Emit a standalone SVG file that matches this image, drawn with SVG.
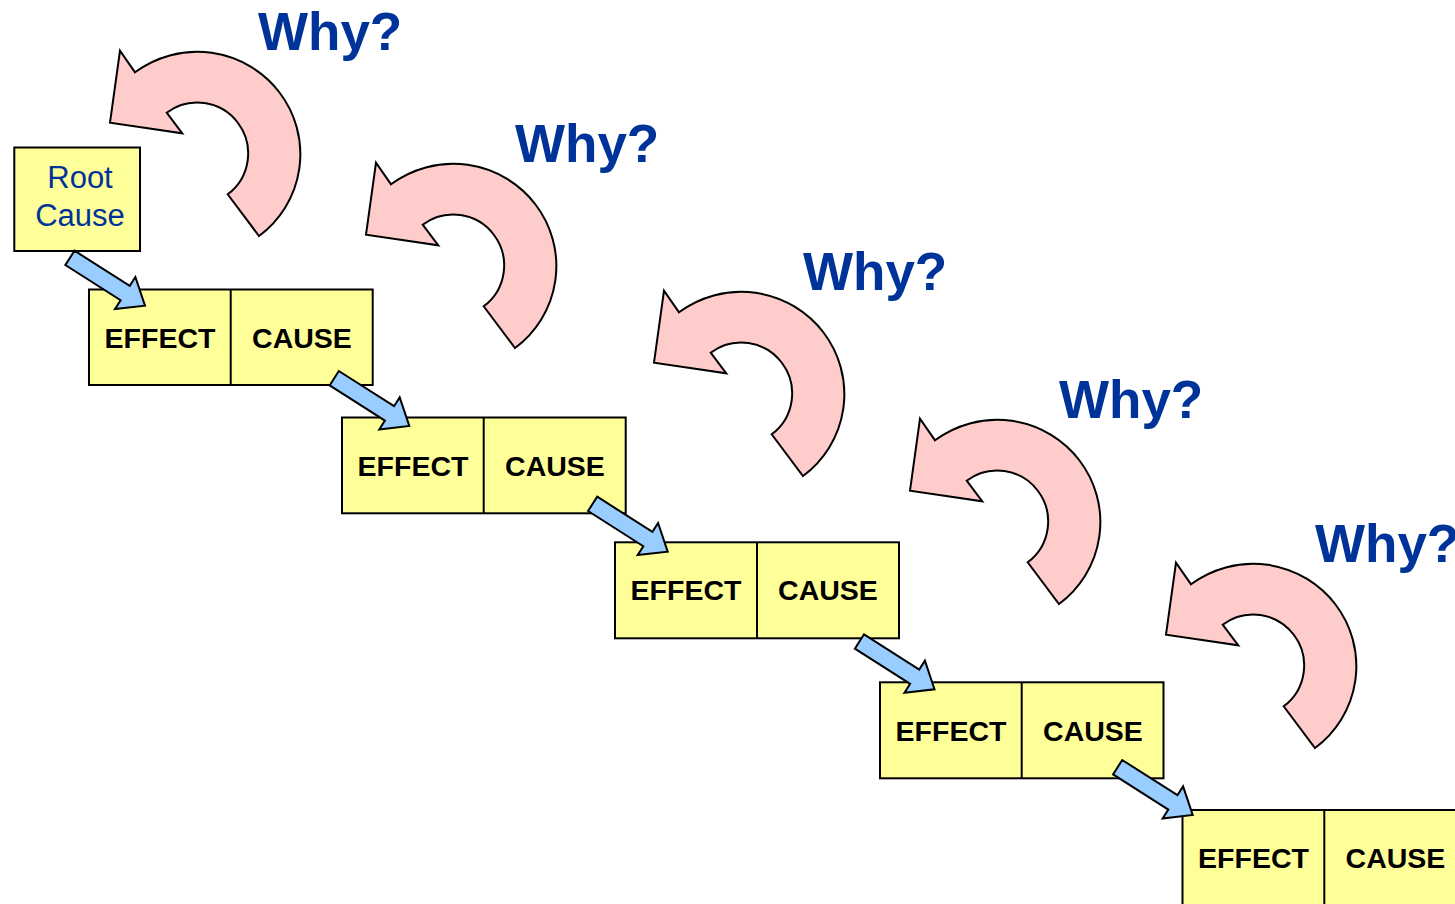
<svg xmlns="http://www.w3.org/2000/svg" xmlns:xlink="http://www.w3.org/1999/xlink" width="1455" height="904" viewBox="0 0 1455 904">
<style>
.box{fill:#FFFF99;stroke:#000;stroke-width:2}
.div{stroke:#000;stroke-width:2}
.lbl{font-family:"Liberation Sans",Arial,sans-serif;font-weight:bold;font-size:28.5px;fill:#000;text-anchor:middle}
.why{font-family:"Liberation Sans",Arial,sans-serif;font-weight:bold;font-size:53px;fill:#003399}
.root{font-family:"Liberation Sans",Arial,sans-serif;font-size:31px;fill:#003399;text-anchor:middle}
.curl{fill:#FFCCCC;stroke:#000;stroke-width:2;stroke-linejoin:miter}
.conn{fill:#99CCFF;stroke:#000;stroke-width:2;stroke-linejoin:miter}
</style>
<defs>
<path id="curl" d="M 259,236 A 102 101 0 1 0 135,72.3 L 120,50.7 L 110,122.7 L 182.3,133.3 L 166.7,112.7 A 50 50 0 1 1 227.7,194.3 Z"/>
<path id="barrow" d="M -89,-8.5 L -23.5,-8.5 L -23.5,-19 L 0,0 L -23.5,19 L -23.5,8.5 L -89,8.5 Z"/>
</defs>
<rect width="1455" height="904" fill="#FFFFFF"/>

<g id="why1"><use xlink:href="#curl" href="#curl" class="curl"/><text class="why" x="258" y="50">Why?</text></g>
<g id="why2"><use xlink:href="#curl" href="#curl" class="curl" transform="translate(256,112)"/><text class="why" x="515" y="162">Why?</text></g>
<g id="why3"><use xlink:href="#curl" href="#curl" class="curl" transform="translate(544,240)"/><text class="why" x="803" y="289.5">Why?</text></g>
<g id="why4"><use xlink:href="#curl" href="#curl" class="curl" transform="translate(800,368)"/><text class="why" x="1059" y="417.5">Why?</text></g>
<g id="why5"><use xlink:href="#curl" href="#curl" class="curl" transform="translate(1056,512)"/><text class="why" x="1315" y="561.5">Why?</text></g>

<g id="root">
<rect class="box" x="14.3" y="147.5" width="125.7" height="103.5"/>
<text class="root" x="80" y="187.7">Root</text>
<text class="root" x="80" y="225.7">Cause</text>
</g>

<g id="step1">
<rect class="box" x="89" y="289.5" width="283.7" height="95.5"/>
<line class="div" x1="230.7" y1="289.5" x2="230.7" y2="385"/>
<text class="lbl" x="160" y="347.5">EFFECT</text>
<text class="lbl" x="302" y="347.5">CAUSE</text>
</g>
<g id="step2">
<rect class="box" x="342" y="417.5" width="283.7" height="95.8"/>
<line class="div" x1="483.7" y1="417.5" x2="483.7" y2="513.3"/>
<text class="lbl" x="413" y="476">EFFECT</text>
<text class="lbl" x="555" y="476">CAUSE</text>
</g>
<g id="step3">
<rect class="box" x="615" y="542.3" width="284" height="96"/>
<line class="div" x1="757" y1="542.3" x2="757" y2="638.3"/>
<text class="lbl" x="686" y="600.3">EFFECT</text>
<text class="lbl" x="828" y="600.3">CAUSE</text>
</g>
<g id="step4">
<rect class="box" x="880" y="682.3" width="283.5" height="96"/>
<line class="div" x1="1021.7" y1="682.3" x2="1021.7" y2="778.3"/>
<text class="lbl" x="951" y="740.5">EFFECT</text>
<text class="lbl" x="1093" y="740.5">CAUSE</text>
</g>
<g id="step5">
<rect class="box" x="1182.5" y="810" width="284" height="96"/>
<line class="div" x1="1324.3" y1="810" x2="1324.3" y2="906"/>
<text class="lbl" x="1253.5" y="868.3">EFFECT</text>
<text class="lbl" x="1395.5" y="868.3">CAUSE</text>
</g>

<g id="connectors">
<use xlink:href="#barrow" href="#barrow" class="conn" transform="translate(145,305.7) rotate(32.5)"/>
<use xlink:href="#barrow" href="#barrow" class="conn" transform="translate(409.3,426) rotate(32.5)"/>
<use xlink:href="#barrow" href="#barrow" class="conn" transform="translate(667.7,551.7) rotate(32.5)"/>
<use xlink:href="#barrow" href="#barrow" class="conn" transform="translate(934.5,689.3) rotate(32.5)"/>
<use xlink:href="#barrow" href="#barrow" class="conn" transform="translate(1192.7,815) rotate(32.5)"/>
</g>
</svg>
